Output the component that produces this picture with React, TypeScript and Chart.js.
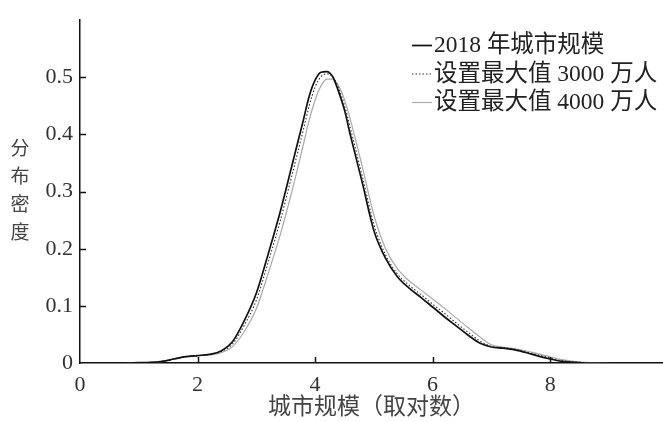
import React, { useEffect, useRef } from 'react';
import { Chart, registerables } from 'chart.js';

Chart.register(...registerables);

// x grid (log city size)
const xGrid = [
  0.8, 1.0, 1.2, 1.4, 1.6, 1.8, 2.0, 2.2, 2.4, 2.6, 2.8, 3.0, 3.2, 3.4, 3.6, 3.8,
  3.9, 4.0, 4.1, 4.2, 4.3, 4.4, 4.5, 4.6,
  4.8, 5.0, 5.2, 5.4, 5.6, 5.8, 6.0, 6.2, 6.4, 6.6, 6.8, 7.0, 7.2, 7.4, 7.6, 7.8, 8.0, 8.2, 8.4, 8.6, 8.8, 9.0,
];

const density2018 = [
  0, 0.0005, 0.001, 0.003, 0.007, 0.011, 0.013, 0.015, 0.021, 0.038, 0.075, 0.122, 0.19, 0.262, 0.343, 0.425,
  0.467, 0.495, 0.509, 0.51, 0.501, 0.475, 0.443, 0.399,
  0.317, 0.232, 0.183, 0.151, 0.131, 0.115, 0.098, 0.081, 0.065, 0.049, 0.035, 0.028, 0.026, 0.023, 0.018, 0.012, 0.007, 0.003, 0.001, 0, 0, 0,
];

const density3000 = [
  0, 0.0005, 0.001, 0.003, 0.007, 0.011, 0.013, 0.015, 0.02, 0.034, 0.067, 0.11, 0.176, 0.246, 0.326, 0.408,
  0.45, 0.483, 0.501, 0.506, 0.501, 0.481, 0.451, 0.411,
  0.328, 0.243, 0.189, 0.156, 0.136, 0.12, 0.103, 0.087, 0.07, 0.054, 0.039, 0.029, 0.027, 0.024, 0.019, 0.014, 0.009, 0.004, 0.002, 0.0005, 0, 0,
];

const density4000 = [
  0, 0.0005, 0.001, 0.003, 0.007, 0.011, 0.013, 0.014, 0.018, 0.029, 0.056, 0.095, 0.156, 0.222, 0.298, 0.382,
  0.425, 0.46, 0.485, 0.497, 0.497, 0.485, 0.461, 0.426,
  0.345, 0.259, 0.2, 0.165, 0.144, 0.128, 0.112, 0.096, 0.079, 0.062, 0.046, 0.032, 0.028, 0.025, 0.021, 0.016, 0.011, 0.006, 0.003, 0.0012, 0.0003, 0,
];

const seriesLabels = ['2018 年城市规模', '设置最大值 3000 万人', '设置最大值 4000 万人'];
const yTitleChars = ['分', '布', '密', '度'];
const xTitle = '城市规模（取对数）';
const xTickMarks = [2, 4, 6, 8];
const yTickMarks = [0.1, 0.2, 0.3, 0.4, 0.5];

const FONT = '"Liberation Serif", "Noto Sans CJK SC", serif';

const toPoints = (ys: number[]) => xGrid.map((x, i) => ({ x, y: ys[i] }));

const decorPlugin = {
  id: 'decor',
  afterDraw(chart: any) {
    const { ctx, chartArea, scales } = chart;
    const xs = scales.x;
    const ys = scales.y;
    ctx.save();
    // inward tick marks
    ctx.strokeStyle = '#111';
    ctx.lineWidth = 1.5;
    ctx.beginPath();
    xTickMarks.forEach((v) => {
      const px = Math.round(xs.getPixelForValue(v)) + 0.5;
      ctx.moveTo(px, chartArea.bottom);
      ctx.lineTo(px, chartArea.bottom - 6);
    });
    yTickMarks.forEach((v) => {
      const py = Math.round(ys.getPixelForValue(v)) + 0.5;
      ctx.moveTo(chartArea.left, py);
      ctx.lineTo(chartArea.left + 6, py);
    });
    ctx.stroke();

    // vertical stacked y title
    ctx.fillStyle = '#444';
    ctx.font = `19px ${FONT}`;
    ctx.textAlign = 'center';
    ctx.textBaseline = 'middle';
    const yMid = ys.getPixelForValue(0.3);
    const step = 28;
    yTitleChars.forEach((ch, i) => {
      ctx.fillText(ch, 20, yMid + (i - 1.5) * step);
    });

    // legend
    const metas = chart.data.datasets;
    const lx = 412;
    const ly0 = 45;
    const lstep = 28.5;
    ctx.font = `23.5px ${FONT}`;
    ctx.textAlign = 'left';
    metas.forEach((ds: any, i: number) => {
      const y = ly0 + i * lstep;
      ctx.save();
      ctx.strokeStyle = ds.borderColor;
      ctx.lineWidth = ds.borderWidth;
      ctx.setLineDash(ds.borderDash || []);
      ctx.beginPath();
      ctx.moveTo(lx, y + 0.5);
      ctx.lineTo(lx + 20, y + 0.5);
      ctx.stroke();
      ctx.restore();
      ctx.fillStyle = '#222';
      ctx.fillText(ds.label, lx + 22, y + 1);
    });
    ctx.restore();
  },
};

export default function App() {
  const ref = useRef<HTMLCanvasElement>(null);

  useEffect(() => {
    if (!ref.current) return;
    const chart = new Chart(ref.current, {
      type: 'line',
      data: {
        datasets: [
          {
            label: seriesLabels[0],
            data: toPoints(density2018),
            borderColor: '#111',
            borderWidth: 1.7,
            pointRadius: 0,
            cubicInterpolationMode: 'monotone',
            fill: false,
          },
          {
            label: seriesLabels[1],
            data: toPoints(density3000),
            borderColor: '#333',
            borderWidth: 1.1,
            borderDash: [1.5, 2],
            pointRadius: 0,
            cubicInterpolationMode: 'monotone',
            fill: false,
          },
          {
            label: seriesLabels[2],
            data: toPoints(density4000),
            borderColor: '#aaaaaa',
            borderWidth: 1.2,
            pointRadius: 0,
            cubicInterpolationMode: 'monotone',
            fill: false,
          },
        ],
      },
      options: {
        responsive: false,
        animation: false,
        layout: { padding: { top: 18, right: 0, left: 0, bottom: 0 } },
        plugins: {
          legend: { display: false },
          tooltip: { enabled: false },
        },
        scales: {
          x: {
            type: 'linear',
            min: 0,
            max: 9.92,
            grid: { display: false, drawTicks: false },
            border: { display: true, color: '#111', width: 1.5 },
            ticks: {
              stepSize: 2,
              includeBounds: false,
              padding: 9,
              color: '#333',
              font: { family: FONT, size: 22 },
              maxRotation: 0,
            },
            title: {
              display: true,
              text: xTitle,
              color: '#444',
              font: { family: FONT, size: 23 },
              padding: { top: 0, bottom: 0 },
            },
            afterFit: (s: any) => {
              s.height = 59;
            },
          },
          y: {
            type: 'linear',
            min: 0,
            max: 0.6,
            grid: { display: false, drawTicks: false },
            border: { display: true, color: '#111', width: 1.5 },
            ticks: {
              stepSize: 0.1,
              padding: 7,
              color: '#333',
              font: { family: FONT, size: 22 },
              callback: (v: any) => (v > 0.55 ? '' : String(Number(Number(v).toFixed(1)))),
            },
            afterFit: (s: any) => {
              s.width = 80;
            },
          },
        },
      },
      plugins: [decorPlugin],
    } as any);
    return () => chart.destroy();
  }, []);

  return (
    <div style={{ position: 'fixed', left: 0, top: 0, width: 663, height: 422, background: '#fff' }}>
      <canvas ref={ref} width={663} height={422} />
    </div>
  );
}
